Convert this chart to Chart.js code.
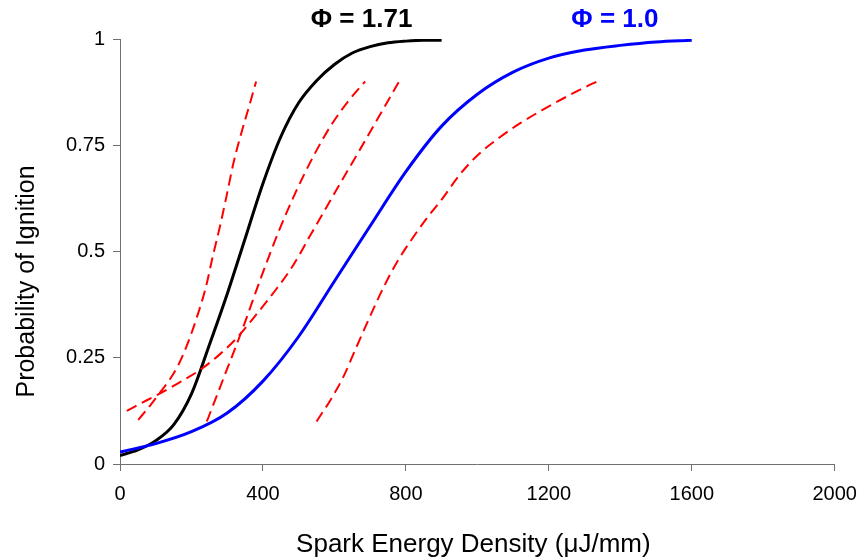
<!DOCTYPE html>
<html>
<head>
<meta charset="utf-8">
<script src="https://cdn.jsdelivr.net/npm/chart.js@4"></script>
<style>
  html, body { margin: 0; padding: 0; background: #ffffff; }
  canvas { display: block; }
</style>
</head>
<body>
<canvas id="c" width="857" height="560"></canvas>
<script>
// ---- Data ----
const xTickValues = [0, 400, 800, 1200, 1600, 2000];
const yTickValues = [0, 0.25, 0.5, 0.75, 1];

// Phi = 1.71 (black, solid)
const phi171Energy = [0, 50, 100, 150, 200, 250, 300, 350, 400, 450, 500, 550, 600, 650, 700, 750, 800, 850, 900];
const phi171Prob   = [0.02, 0.033, 0.055, 0.092, 0.165, 0.28, 0.40, 0.53, 0.66, 0.77, 0.85, 0.902, 0.94, 0.967, 0.982, 0.991, 0.995, 0.997, 0.997];

// Phi = 1.0 (blue, solid)
const phi10Energy = [0, 100, 200, 300, 400, 500, 600, 700, 800, 900, 1000, 1100, 1200, 1300, 1400, 1500, 1600];
const phi10Prob   = [0.028, 0.048, 0.076, 0.12, 0.195, 0.30, 0.43, 0.56, 0.688, 0.795, 0.87, 0.922, 0.955, 0.974, 0.985, 0.993, 0.997];

// Red dashed curves
const dashAEnergy = [51, 80, 110, 140, 165, 190, 215, 240, 260, 280, 300, 318, 340, 360, 381];
const dashAProb   = [0.104, 0.133, 0.166, 0.20, 0.236, 0.285, 0.345, 0.415, 0.49, 0.56, 0.638, 0.71, 0.78, 0.838, 0.9];

const dashBEnergy = [19, 75, 125, 175, 225, 275, 325, 375, 425, 475, 504, 525, 575, 625, 675, 725, 781];
const dashBProb   = [0.125, 0.15, 0.172, 0.196, 0.222, 0.255, 0.295, 0.345, 0.398, 0.455, 0.495, 0.527, 0.60, 0.673, 0.745, 0.818, 0.9];

const dashCEnergy = [243, 293, 343, 393, 443, 493, 543, 593, 643, 686];
const dashCProb   = [0.1, 0.209, 0.318, 0.435, 0.545, 0.642, 0.727, 0.80, 0.858, 0.9];

const dashDEnergy = [550, 590, 625, 660, 700, 740, 780, 820, 860, 900, 950, 1000, 1060, 1120, 1180, 1240, 1300, 1335];
const dashDProb   = [0.1, 0.152, 0.205, 0.272, 0.348, 0.42, 0.482, 0.533, 0.58, 0.622, 0.68, 0.726, 0.767, 0.802, 0.832, 0.86, 0.886, 0.9];

// Curve labels (text and the energy value they sit above)
const curveLabelTexts  = ['\u03A6 = 1.71', '\u03A6 = 1.0'];
const curveLabelAnchor = [676, 1385];
const curveLabelColors = ['#000000', '#0000ff'];

const xTitle = 'Spark Energy Density (\u03BCJ/mm)';
const yTitle = 'Probability of Ignition';

// ---- Build chart ----
function pts(xs, ys) { return xs.map((x, i) => ({ x: x, y: ys[i] })); }

const FONT = "'Liberation Sans', Arial, sans-serif";
const AXIS_COLOR = '#707070';

const dashStyle = {
  borderColor: '#ff0000', borderWidth: 2, borderDash: [11, 6],
  pointRadius: 0, fill: false, cubicInterpolationMode: 'monotone'
};

const textOverlay = {
  id: 'textOverlay',
  afterDraw(chart) {
    const ctx = chart.ctx;
    const xs = chart.scales.x;
    const area = chart.chartArea;
    ctx.save();
    ctx.textAlign = 'center';
    ctx.textBaseline = 'middle';
    // curve labels
    ctx.font = "bold 26px " + FONT;
    curveLabelTexts.forEach((t, i) => {
      ctx.fillStyle = curveLabelColors[i];
      ctx.fillText(t, xs.getPixelForValue(curveLabelAnchor[i]), area.top - 19);
    });
    // axis titles
    ctx.fillStyle = '#000';
    ctx.font = "26px " + FONT;
    ctx.fillText(xTitle, (area.left + area.right) / 2 - 4, chart.height - 15);
    ctx.save();
    ctx.translate(27, (area.top + area.bottom) / 2 + 30);
    ctx.rotate(-Math.PI / 2);
    ctx.font = "25px " + FONT;
    ctx.fillText(yTitle, 0, 0);
    ctx.restore();
    ctx.restore();
  }
};

new Chart(document.getElementById('c'), {
  type: 'line',
  data: {
    datasets: [
      Object.assign({ data: pts(dashAEnergy, dashAProb) }, dashStyle),
      Object.assign({ data: pts(dashBEnergy, dashBProb) }, dashStyle),
      Object.assign({ data: pts(dashCEnergy, dashCProb) }, dashStyle),
      Object.assign({ data: pts(dashDEnergy, dashDProb) }, dashStyle),
      { data: pts(phi10Energy, phi10Prob), borderColor: '#0000ff', borderWidth: 3,
        pointRadius: 0, fill: false, cubicInterpolationMode: 'monotone' },
      { data: pts(phi171Energy, phi171Prob), borderColor: '#000000', borderWidth: 3,
        pointRadius: 0, fill: false, cubicInterpolationMode: 'monotone' }
    ]
  },
  options: {
    responsive: false,
    animation: false,
    events: [],
    layout: { padding: { left: 0, top: 39, right: 22.3, bottom: 0 } },
    plugins: { legend: { display: false }, tooltip: { enabled: false } },
    scales: {
      x: {
        type: 'linear', min: 0, max: 2000,
        afterBuildTicks(s) { s.ticks = xTickValues.map(v => ({ value: v })); },
        afterFit(s) { s.height = 96; s.paddingLeft = 0; s.paddingRight = 0; },
        grid: { display: true, drawOnChartArea: false, drawTicks: true, tickLength: 7, color: AXIS_COLOR, lineWidth: 1 },
        border: { display: true, color: AXIS_COLOR, width: 1 },
        ticks: { color: '#000', font: { family: FONT, size: 20 }, padding: 11, maxRotation: 0, autoSkip: false,
                 callback: v => String(v) },
        title: { display: false }
      },
      y: {
        type: 'linear', min: 0, max: 1,
        afterBuildTicks(s) { s.ticks = yTickValues.map(v => ({ value: v })); },
        afterFit(s) { s.width = 120; s.paddingTop = 0; s.paddingBottom = 0; },
        grid: { display: true, drawOnChartArea: false, drawTicks: true, tickLength: 7, color: AXIS_COLOR, lineWidth: 1 },
        border: { display: true, color: AXIS_COLOR, width: 1 },
        ticks: { color: '#000', font: { family: FONT, size: 20 }, padding: 8, autoSkip: false,
                 callback: v => String(v) },
        title: { display: false }
      }
    }
  },
  plugins: [textOverlay]
});
</script>
</body>
</html>
